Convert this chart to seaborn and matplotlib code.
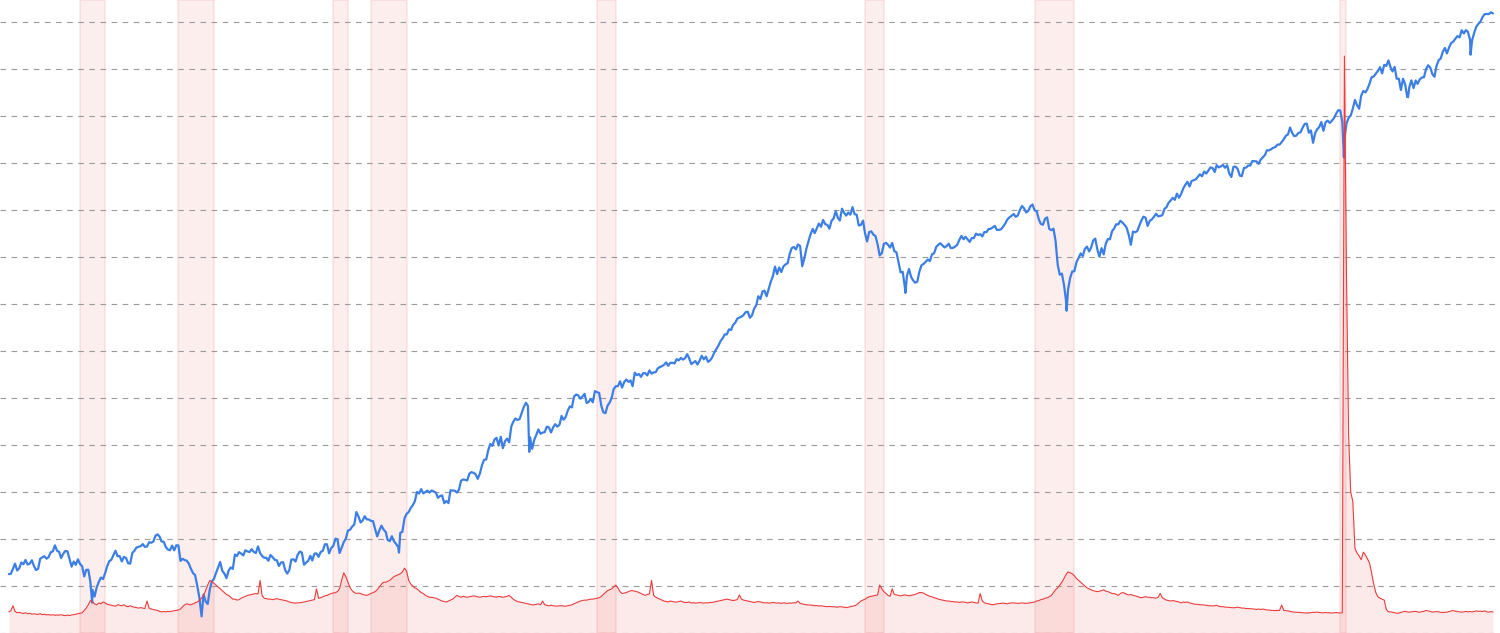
import numpy as np
import pandas as pd
import matplotlib
matplotlib.use('Agg')
import matplotlib.pyplot as plt
import seaborn as sns

sns.set_theme(style='white')

# S&P 500, month-end closes Jan 1967 .. Feb 2026
spx_close = [
    86.6, 86.8, 90.2, 94.0, 89.1, 90.6, 94.8, 93.6, 96.7, 93.3, 94.0, 96.5,
    92.2, 89.4, 90.2, 97.6, 98.7, 99.6, 97.7, 98.9, 102.7, 103.4, 108.4, 103.9,
    103.0, 98.1, 101.5, 103.7, 103.5, 97.7, 91.8, 95.5, 93.1, 97.2, 93.8, 92.1,
    85.0, 89.5, 89.6, 81.5, 76.6, 72.7, 78.1, 81.5, 84.3, 83.3, 87.2, 92.2,
    95.9, 96.8, 100.3, 103.9, 99.6, 99.7, 95.6, 99.0, 98.3, 94.2, 94.0, 102.1,
    103.9, 106.6, 107.2, 107.7, 109.5, 107.1, 107.4, 111.1, 110.6, 111.6, 116.7, 118.1,
    116.0, 111.7, 111.5, 107.0, 104.9, 104.3, 108.2, 104.3, 108.4, 108.3, 96.0, 97.6,
    96.6, 96.2, 94.0, 90.3, 87.3, 86.0, 79.3, 72.2, 63.5, 73.9, 70.0, 68.6,
    77.0, 81.6, 83.4, 87.3, 91.2, 95.2, 88.8, 86.9, 83.9, 89.0, 91.2, 90.2,
    100.9, 99.7, 102.8, 101.6, 100.2, 104.3, 103.4, 102.9, 105.2, 102.9, 102.1, 107.5,
    102.0, 99.8, 98.4, 98.4, 96.1, 100.5, 98.9, 96.8, 96.5, 92.3, 94.8, 95.1,
    89.3, 87.0, 89.2, 97.0, 97.2, 95.5, 100.7, 103.3, 102.5, 93.2, 94.7, 96.1,
    99.9, 96.3, 101.6, 101.8, 99.1, 102.9, 103.8, 109.3, 109.3, 101.8, 106.2, 107.9,
    114.2, 113.7, 102.1, 106.3, 111.2, 114.2, 121.7, 122.4, 125.5, 127.5, 140.5, 135.8,
    129.6, 131.3, 136.0, 132.8, 132.6, 131.2, 130.9, 122.8, 116.2, 121.9, 126.4, 122.6,
    120.4, 113.1, 112.0, 116.4, 111.9, 109.6, 107.1, 119.5, 120.4, 133.7, 138.5, 140.6,
    145.3, 148.1, 153.0, 164.4, 162.4, 168.1, 162.6, 164.4, 166.1, 163.6, 166.4, 164.9,
    163.4, 157.1, 159.2, 160.1, 150.6, 153.2, 150.7, 166.7, 166.1, 166.1, 163.6, 167.2,
    179.6, 181.2, 180.7, 179.8, 189.6, 191.9, 190.9, 188.6, 182.1, 189.8, 202.2, 211.3,
    211.8, 226.9, 238.9, 235.5, 247.4, 250.8, 236.1, 252.9, 231.3, 244.0, 249.2, 242.2,
    274.1, 284.2, 291.7, 288.4, 290.1, 304.0, 318.7, 329.8, 321.8, 251.8, 230.3, 247.1,
    257.1, 267.8, 258.9, 261.3, 262.2, 273.5, 272.0, 261.5, 271.9, 279.0, 273.7, 277.7,
    297.5, 288.9, 294.9, 309.6, 320.5, 318.0, 346.1, 351.5, 349.2, 340.4, 346.0, 353.4,
    329.1, 331.9, 339.9, 330.8, 361.2, 358.0, 356.2, 322.6, 306.1, 304.0, 322.2, 330.2,
    343.9, 367.1, 375.2, 375.3, 389.8, 371.2, 387.8, 395.4, 387.9, 392.5, 375.2, 417.1,
    408.8, 412.7, 403.7, 415.0, 415.4, 408.1, 424.2, 414.0, 417.8, 418.7, 431.4, 435.7,
    438.8, 443.4, 451.7, 440.2, 450.2, 450.5, 448.1, 463.6, 458.9, 467.8, 461.8, 466.5,
    481.6, 467.1, 445.8, 450.9, 456.5, 444.3, 458.3, 475.5, 462.7, 472.4, 453.7, 459.3,
    470.4, 487.4, 500.7, 514.7, 533.4, 544.8, 562.1, 561.9, 584.4, 581.5, 605.4, 615.9,
    636.0, 640.4, 645.5, 654.2, 669.1, 670.6, 640.0, 652.0, 687.3, 705.3, 757.0, 740.7,
    786.2, 790.8, 757.1, 801.3, 848.3, 885.1, 954.3, 899.5, 947.3, 914.6, 955.4, 970.4,
    980.3, 1049.3, 1101.8, 1111.8, 1090.8, 1133.8, 1120.7, 957.3, 1017.0, 1098.7, 1163.6, 1229.2,
    1279.6, 1238.3, 1286.4, 1335.2, 1301.8, 1372.7, 1328.7, 1320.4, 1282.7, 1362.9, 1388.9, 1469.3,
    1394.5, 1366.4, 1498.6, 1452.4, 1420.6, 1454.6, 1430.8, 1517.7, 1436.5, 1429.4, 1315.2, 1320.3,
    1366.0, 1239.9, 1160.3, 1249.5, 1255.8, 1224.4, 1211.2, 1133.6, 1040.9, 1059.8, 1139.5, 1148.1,
    1130.2, 1106.7, 1147.4, 1076.9, 1067.1, 989.8, 911.6, 916.1, 815.3, 885.8, 936.3, 879.8,
    855.7, 841.2, 848.2, 916.9, 963.6, 974.5, 990.3, 1008.0, 996.0, 1050.7, 1058.2, 1111.9,
    1131.1, 1144.9, 1126.2, 1107.3, 1120.7, 1140.8, 1101.7, 1104.2, 1114.6, 1130.2, 1173.8, 1211.9,
    1181.3, 1203.6, 1180.6, 1156.9, 1191.5, 1191.3, 1234.2, 1220.3, 1228.8, 1207.0, 1249.5, 1248.3,
    1280.1, 1280.7, 1294.9, 1310.6, 1270.1, 1270.2, 1276.7, 1303.8, 1335.9, 1377.9, 1400.6, 1418.3,
    1438.2, 1406.8, 1420.9, 1482.4, 1530.6, 1503.4, 1455.3, 1474.0, 1526.8, 1549.4, 1481.1, 1468.4,
    1378.6, 1330.6, 1322.7, 1385.6, 1400.4, 1280.0, 1267.4, 1282.8, 1166.4, 968.8, 896.2, 903.3,
    825.9, 735.1, 797.9, 872.8, 919.1, 919.3, 987.5, 1020.6, 1057.1, 1036.2, 1095.6, 1115.1,
    1073.9, 1104.5, 1169.4, 1186.7, 1089.4, 1030.7, 1101.6, 1049.3, 1141.2, 1183.3, 1180.6, 1257.6,
    1286.1, 1327.2, 1325.8, 1363.6, 1345.2, 1320.6, 1292.3, 1218.9, 1131.4, 1253.3, 1247.0, 1257.6,
    1312.4, 1365.7, 1408.5, 1397.9, 1310.3, 1362.2, 1379.3, 1406.6, 1440.7, 1412.2, 1416.2, 1426.2,
    1498.1, 1514.7, 1569.2, 1597.6, 1630.7, 1606.3, 1685.7, 1633.0, 1681.6, 1756.5, 1805.8, 1848.4,
    1782.6, 1859.5, 1872.3, 1884.0, 1923.6, 1960.2, 1930.7, 2003.4, 1972.3, 2018.1, 2067.6, 2058.9,
    1995.0, 2104.5, 2067.9, 2085.5, 2107.4, 2063.1, 2103.8, 1972.2, 1920.0, 2079.4, 2080.4, 2043.9,
    1940.2, 1932.2, 2059.7, 2065.3, 2097.0, 2098.9, 2173.6, 2171.0, 2168.3, 2126.2, 2198.8, 2238.8,
    2278.9, 2363.6, 2362.7, 2384.2, 2411.8, 2423.4, 2470.3, 2471.7, 2519.4, 2575.3, 2647.6, 2673.6,
    2823.8, 2713.8, 2640.9, 2648.1, 2705.3, 2718.4, 2816.3, 2901.5, 2914.0, 2711.7, 2760.2, 2506.9,
    2704.1, 2784.5, 2834.4, 2945.8, 2752.1, 2941.8, 2980.4, 2926.5, 2976.7, 3037.6, 3141.0, 3230.8,
    3225.5, 2954.2, 2584.6, 2912.4, 3044.3, 3100.3, 3271.1, 3500.3, 3363.0, 3270.0, 3621.6, 3756.1,
    3714.2, 3811.2, 3972.9, 4181.2, 4204.1, 4297.5, 4395.3, 4522.7, 4307.5, 4605.4, 4567.0, 4766.2,
    4515.6, 4373.9, 4530.4, 4131.9, 4132.2, 3785.4, 4130.3, 3955.0, 3585.6, 3872.0, 4080.1, 3839.5,
    4076.6, 3970.2, 4109.3, 4169.5, 4179.8, 4450.4, 4589.0, 4507.7, 4288.1, 4193.8, 4567.8, 4769.8,
    4845.7, 5096.3, 5254.4, 5035.7, 5277.5, 5460.5, 5522.3, 5648.4, 5762.5, 5705.5, 6032.4, 5881.6,
    6040.5, 5954.5, 5611.9, 5569.1, 5911.7, 6204.9, 6339.4, 6460.3, 6688.5, 6840.2, 6849.0, 6845.5,
    6939.0, 6880.0,
]

# intra-month lows that month-end closes miss
spx_low_dates = ['1970-05-26', '1974-10-03', '1982-08-12', '1987-10-19', '2002-10-09',
                 '2009-03-09', '2020-03-23', '2022-10-12', '2025-04-08']
spx_low_values = [69.3, 62.3, 102.4, 224.8, 776.8, 676.5, 2237.4, 3577.0, 4982.8]

# initial jobless claims (thousands), monthly Jan 1967 .. Feb 2026
claims = [
    225, 235, 290, 230, 215, 220, 212, 208, 215, 205, 210, 200,
    205, 200, 198, 205, 195, 200, 192, 196, 190, 195, 188, 192,
    190, 195, 188, 185, 190, 186, 192, 195, 200, 205, 210, 215,
    240, 265, 300, 345, 330, 310, 300, 320, 310, 330, 320, 305,
    300, 295, 290, 285, 300, 295, 290, 300, 285, 280, 290, 280,
    275, 270, 265, 270, 265, 260, 340, 265, 255, 250, 245, 240,
    230, 225, 228, 225, 230, 228, 232, 235, 240, 245, 255, 280,
    300, 310, 305, 300, 310, 320, 330, 345, 370, 400, 450, 510,
    560, 545, 530, 510, 490, 470, 450, 430, 410, 400, 380, 360,
    360, 350, 355, 370, 380, 390, 400, 405, 410, 415, 420, 415,
    560, 400, 370, 365, 360, 360, 355, 360, 365, 360, 355, 350,
    345, 340, 330, 325, 320, 318, 320, 322, 325, 330, 335, 340,
    345, 350, 355, 470, 370, 375, 385, 395, 400, 410, 420, 425,
    430, 440, 470, 560, 640, 600, 540, 480, 450, 430, 420, 425,
    420, 410, 405, 400, 410, 420, 430, 440, 460, 490, 520, 540,
    540, 550, 560, 580, 600, 610, 620, 630, 650, 690, 660, 560,
    520, 500, 480, 470, 450, 430, 420, 400, 390, 380, 380, 375,
    370, 360, 350, 340, 335, 330, 340, 350, 360, 380, 400, 390,
    380, 390, 385, 380, 385, 390, 395, 390, 385, 380, 385, 390,
    385, 390, 395, 390, 385, 380, 390, 385, 380, 385, 390, 400,
    380, 360, 345, 335, 330, 325, 320, 315, 310, 305, 300, 300,
    305, 310, 300, 340, 300, 295, 290, 295, 290, 288, 285, 290,
    290, 288, 285, 290, 295, 300, 310, 320, 330, 340, 345, 350,
    350, 355, 360, 360, 365, 370, 375, 390, 410, 430, 450, 460,
    470, 490, 510, 480, 440, 420, 425, 430, 440, 450, 450, 445,
    440, 430, 420, 410, 400, 410, 415, 560, 400, 380, 370, 360,
    350, 340, 335, 330, 340, 335, 330, 328, 335, 340, 330, 325,
    325, 330, 320, 322, 318, 320, 325, 320, 318, 322, 320, 325,
    325, 330, 335, 340, 345, 350, 355, 360, 355, 350, 345, 350,
    355, 405, 360, 350, 345, 340, 335, 330, 325, 330, 335, 330,
    325, 320, 322, 318, 320, 325, 322, 318, 320, 315, 320, 318,
    315, 320, 318, 322, 320, 340, 315, 310, 305, 300, 298, 295,
    295, 290, 292, 288, 290, 285, 283, 280, 282, 280, 278, 275,
    275, 280, 278, 275, 270, 275, 280, 285, 290, 300, 320, 340,
    350, 360, 375, 385, 390, 395, 400, 405, 510, 470, 440, 420,
    400, 390, 470, 410, 405, 400, 395, 400, 405, 400, 395, 400,
    405, 410, 420, 430, 430, 425, 410, 400, 390, 385, 375, 370,
    360, 355, 350, 345, 340, 340, 335, 335, 330, 330, 325, 330,
    330, 325, 320, 325, 330, 325, 320, 318, 420, 340, 320, 315,
    310, 305, 300, 305, 310, 312, 315, 318, 315, 310, 318, 320,
    320, 318, 315, 318, 320, 318, 315, 318, 320, 325, 330, 340,
    345, 355, 360, 370, 375, 385, 400, 430, 460, 480, 510, 540,
    580, 620, 650, 640, 630, 610, 580, 560, 540, 520, 500, 480,
    470, 460, 450, 445, 440, 445, 450, 460, 445, 440, 430, 420,
    420, 410, 400, 420, 430, 425, 410, 405, 410, 400, 395, 390,
    380, 375, 380, 385, 380, 380, 375, 375, 370, 380, 420, 375,
    360, 350, 345, 340, 345, 340, 335, 330, 320, 330, 325, 330,
    320, 315, 310, 305, 305, 300, 300, 298, 295, 290, 290, 288,
    290, 295, 285, 280, 280, 275, 275, 272, 270, 268, 270, 275,
    270, 265, 265, 260, 260, 258, 255, 255, 250, 255, 250, 255,
    250, 245, 245, 240, 240, 238, 240, 240, 298, 240, 238, 235,
    230, 225, 222, 220, 220, 218, 215, 213, 212, 215, 218, 220,
    220, 222, 218, 215, 215, 218, 215, 215, 212, 215, 218, 215,
    212, 215, 6137, 3800, 2100, 1500, 1400, 900, 850, 820, 780, 860,
    830, 790, 745, 640, 520, 430, 385, 370, 360, 350, 250, 225,
    225, 220, 215, 210, 212, 220, 225, 230, 225, 222, 225, 228,
    230, 225, 220, 228, 230, 240, 235, 230, 222, 225, 228, 225,
    220, 218, 220, 222, 228, 235, 238, 232, 228, 225, 222, 225,
    230, 225, 228, 225, 228, 235, 230, 232, 228, 235, 225, 222,
    228, 224,
]

# NBER recessions
rec_start = ['1969-12-01', '1973-11-01', '1980-01-01', '1981-07-01',
             '1990-07-01', '2001-03-01', '2007-12-01', '2020-02-01']
rec_end = ['1970-11-30', '1975-03-31', '1980-07-31', '1982-11-30',
           '1991-03-31', '2001-11-30', '2009-06-30', '2020-04-30']

months = pd.date_range('1967-01-31', periods=len(spx_close), freq='ME')
spx = pd.DataFrame({'date': months, 'value': spx_close})
lows = pd.DataFrame({'date': pd.to_datetime(spx_low_dates), 'value': spx_low_values})
spx = pd.concat([spx, lows]).sort_values('date').reset_index(drop=True)

cl = pd.DataFrame({'date': pd.date_range('1967-01-31', periods=len(claims), freq='ME'),
                   'value': claims})

blue = '#3b7fe6'
red = '#ec3b3b'

fig = plt.figure(figsize=(15, 6.33), dpi=100)
ax = fig.add_axes([0, 0, 1, 1])      # claims scale: grid + fill
ax2 = ax.twinx()                       # S&P 500, log
ax3 = ax.twinx()                       # claims line on top

for s, e in zip(rec_start, rec_end):
    ax.axvspan(pd.Timestamp(s), pd.Timestamp(e), facecolor=(0.95, 0.3, 0.3, 0.09),
               edgecolor=(0.95, 0.3, 0.3, 0.12), lw=1.2, zorder=0)

ax.fill_between(cl['date'], cl['value'], 0, color=red, alpha=0.11, lw=0, zorder=1)
ax.set_ylim(0, 6734)
ax.set_yticks(np.arange(0, 6734, 500))
ax.grid(axis='y', color='#9a9a9a', linestyle=(0, (5, 5)), linewidth=0.8)
ax.grid(axis='x', visible=False)

sns.lineplot(data=spx, x='date', y='value', ax=ax2, color=blue, linewidth=1.6,
             estimator=None, sort=False)
ax2.set_yscale('log')
ax2.set_ylim(54.7, 7637)

sns.lineplot(data=cl, x='date', y='value', ax=ax3, color=red, linewidth=0.8,
             estimator=None, sort=False)
ax3.set_ylim(0, 6734)

for a in (ax, ax2, ax3):
    a.set_xlim(pd.Timestamp('1966-09-24'), pd.Timestamp('2026-06-10'))
    a.set_xlabel('')
    a.set_ylabel('')
    a.tick_params(length=0, labelleft=False, labelright=False, labelbottom=False)
    for sp in a.spines.values():
        sp.set_visible(False)
    a.minorticks_off()
    a.grid(axis='x', visible=False)
ax2.grid(False)
ax3.grid(False)
ax2.patch.set_visible(False)
ax3.patch.set_visible(False)

fig.savefig('out.png', dpi=100)
